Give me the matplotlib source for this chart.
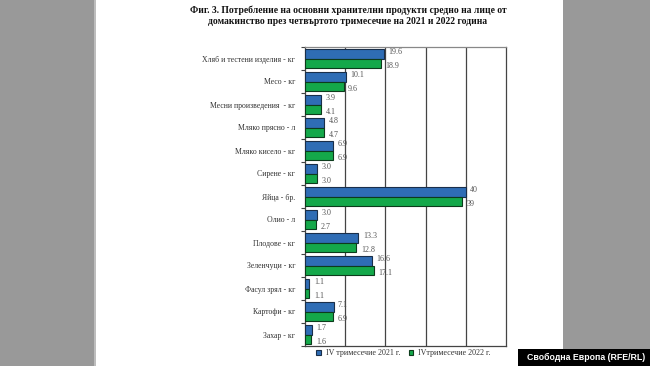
import matplotlib
matplotlib.use("Agg")
import matplotlib.pyplot as plt
from matplotlib.patches import Rectangle
import numpy as np

categories = [
    "Хляб и тестени изделия - кг",
    "Месо - кг",
    "Месни произведения  - кг",
    "Мляко прясно - л",
    "Мляко кисело - кг",
    "Сирене - кг",
    "Яйца - бр.",
    "Олио - л",
    "Плодове - кг",
    "Зеленчуци - кг",
    "Фасул зрял - кг",
    "Картофи - кг",
    "Захар - кг",
]
q4_2021 = [19.6, 10.1, 3.9, 4.8, 6.9, 3.0, 40, 3.0, 13.3, 16.6, 1.1, 7.1, 1.7]
q4_2022 = [18.9, 9.6, 4.1, 4.7, 6.9, 3.0, 39, 2.7, 12.8, 17.1, 1.1, 6.9, 1.6]
labels_2021 = ["19.6", "10.1", "3.9", "4.8", "6.9", "3.0", "40", "3.0", "13.3", "16.6", "1.1", "7.1", "1.7"]
labels_2022 = ["18.9", "9.6", "4.1", "4.7", "6.9", "3.0", "39", "2.7", "12.8", "17.1", "1.1", "6.9", "1.6"]
legend_labels = ["IV тримесечие 2021 г.", "IVтримесечие 2022 г."]
title = ("Фиг. 3. Потребление на основни хранителни продукти средно на лице от\n"
         "домакинство през четвъртото тримесечие на 2021 и 2022 година")
watermark = "Свободна Европа (RFE/RL)"

W, H = 650, 366
fig = plt.figure(figsize=(W / 100, H / 100), dpi=100)
fig.patch.set_facecolor("white")
# gray side panels
fig.patches.append(Rectangle((0, 0), 94 / W, 1, transform=fig.transFigure,
                             facecolor="#999999", edgecolor="none", zorder=0))
fig.patches.append(Rectangle((563 / W, 0), 1 - 563 / W, 1, transform=fig.transFigure,
                             facecolor="#999999", edgecolor="none", zorder=0))
fig.patches.append(Rectangle((94 / W, 0), 1.5 / W, 1, transform=fig.transFigure,
                             facecolor="#bdbdbd", edgecolor="none", zorder=0))

serif = ["Liberation Serif", "DejaVu Serif"]

ax = fig.add_axes([305 / W, 1 - 346 / H, (506 - 305) / W, (346 - 47) / H])
n = len(categories)
y = np.arange(n)
bh = 0.43
blue = "#2F6DB5"
green = "#14A84A"
ax.barh(y - bh / 2, q4_2021, height=bh, color=blue, edgecolor="#1a2f4a", linewidth=0.8, zorder=3,
        label=legend_labels[0])
ax.barh(y + bh / 2, q4_2022, height=bh, color=green, edgecolor="#0d3b1c", linewidth=0.8, zorder=3,
        label=legend_labels[1])

for i in range(n):
    ax.text(q4_2021[i] + 1.1, y[i] - bh / 2 - 0.05, labels_2021[i], va="center", ha="left",
            fontsize=5.8, family=serif, color="#555555")
    ax.text(q4_2022[i] + 1.1, y[i] + bh / 2 + 0.1, labels_2022[i], va="center", ha="left",
            fontsize=5.8, family=serif, color="#555555")

ax.set_xlim(0, 50)
ax.set_ylim(n - 0.5, -0.5)
ax.set_xticks([10, 20, 30, 40])
ax.xaxis.grid(True, color="#444444", linewidth=0.9, zorder=1)
ax.set_axisbelow(True)
ax.tick_params(axis="x", which="both", bottom=False, top=False, labelbottom=False)

ax.set_yticks(y)
ax.set_yticklabels(categories, fontsize=5.6, family=serif, color="#333333")
ax.set_yticks(np.arange(-0.5, n, 1), minor=True)
ax.tick_params(axis="y", which="major", length=0, pad=7)
ax.tick_params(axis="y", which="minor", length=3, width=0.8, color="#444444")
for s in ["left", "bottom", "top", "right"]:
    ax.spines[s].set_color("#444444")
    ax.spines[s].set_linewidth(0.9)
ax.spines["top"].set_color("#888888")

fig.text(348 / W, 1 - 10 / H, title.split("\n")[0], ha="center", va="center",
         fontsize=6.9, fontweight="bold", family=serif, color="#111111")
fig.text(348 / W, 1 - 21 / H, title.split("\n")[1], ha="center", va="center",
         fontsize=6.9, fontweight="bold", family=serif, color="#111111")

leg = ax.legend(loc="upper left", bbox_to_anchor=(314 / W, 1 - 347 / H), bbox_transform=fig.transFigure,
                ncol=2, frameon=False, prop={"family": serif, "size": 5.8},
                handlelength=0.6, handleheight=0.6, handletextpad=0.6, columnspacing=1.0,
                borderaxespad=0.1, borderpad=0.2)
for t in leg.get_texts():
    t.set_color("#333333")

fig.patches.append(Rectangle((518 / W, 0), 1 - 518 / W, 17 / H, transform=fig.transFigure,
                             facecolor="black", edgecolor="none", zorder=5))
fig.text(586 / W, 8.5 / H, watermark, ha="center", va="center", fontsize=6.3,
         fontweight="bold", family=["Liberation Sans", "DejaVu Sans"], color="white", zorder=6)

fig.savefig("out.png", dpi=100)
